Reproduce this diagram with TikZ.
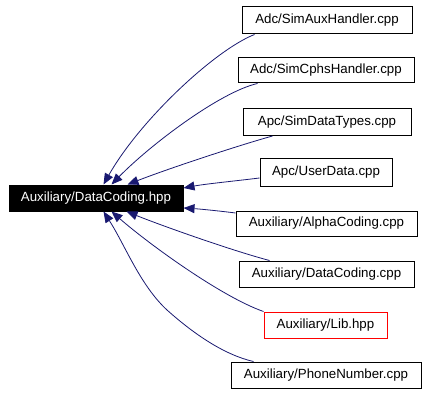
\documentclass[tikz,border=0pt]{standalone}
\usepackage{fontspec}
\setmainfont{Liberation Sans}
\usetikzlibrary{arrows.meta}
\definecolor{edgeblue}{HTML}{191970}
\begin{document}
\begin{tikzpicture}[x=1pt,y=-1pt,
  file/.style={draw=black, line width=1pt, fill=white, inner sep=0pt, minimum height=26pt,
    font=\fontsize{13.3}{15}\selectfont},
  mainfile/.style={file, fill=black, text=white},
  libfile/.style={file, draw=red},
  dep/.style={draw=edgeblue, line width=0.8pt, -{Triangle[length=11pt,width=9pt]}, color=edgeblue}]
\useasboundingbox (0,0) rectangle (427,395);

% header being included
\node[mainfile, minimum width=174pt] (main) at (96,198) {Auxiliary/DataCoding.hpp};

% files that include it
\node[file, minimum width=170pt, minimum height=27pt] (b1) at (327,20.5) {Adc/SimAuxHandler.cpp};
\node[file, minimum width=176pt, minimum height=25pt] (b2) at (326,70.5) {Adc/SimCphsHandler.cpp};
\node[file, minimum width=168pt, minimum height=27pt] (b3) at (327,122) {Apc/SimDataTypes.cpp};
\node[file, minimum width=132pt, minimum height=27pt] (b4) at (326,172.5) {Apc/UserData.cpp};
\node[file, minimum width=181pt, minimum height=25pt] (b5) at (326.5,223.5) {Auxiliary/AlphaCoding.cpp};
\node[file, minimum width=175pt] (b6) at (326.5,274) {Auxiliary/DataCoding.cpp};
\node[libfile, minimum width=123pt] (b7) at (325.5,325) {Auxiliary/Lib.hpp};
\node[file, minimum width=190pt] (b8) at (326,375) {Auxiliary/PhoneNumber.cpp};

% include edges
\draw[dep] ([xshift=13pt]b1.south west) .. controls (215,50) and (140,120) .. ([xshift=95pt]main.north west);
\draw[dep] ([xshift=20pt]b2.south west) .. controls (220,92) and (150,145) .. ([xshift=103pt]main.north west);
\draw[dep] ([xshift=30pt]b3.south west) .. controls (240,145) and (170,168) .. ([xshift=119pt]main.north west);
\draw[dep] ([yshift=-5.5pt]b4.west) .. controls (235,181) and (205,184) .. ([yshift=10pt]main.east);
\draw[dep] ([yshift=10.5pt]b5.west) .. controls (220,211) and (200,209) .. ([yshift=-10pt]main.east);
\draw[dep] ([xshift=31pt]b6.north west) .. controls (230,250) and (160,225) .. ([xshift=118pt]main.south west);
\draw[dep] (b7.north west) .. controls (222,297) and (150,245) .. ([xshift=103pt]main.south west);
\draw[dep] ([xshift=23pt]b8.north west) .. controls (225,355) and (195,335) .. (167,310)
  .. controls (140,285) and (125,245) .. ([xshift=95pt]main.south west);
\end{tikzpicture}
\end{document}
